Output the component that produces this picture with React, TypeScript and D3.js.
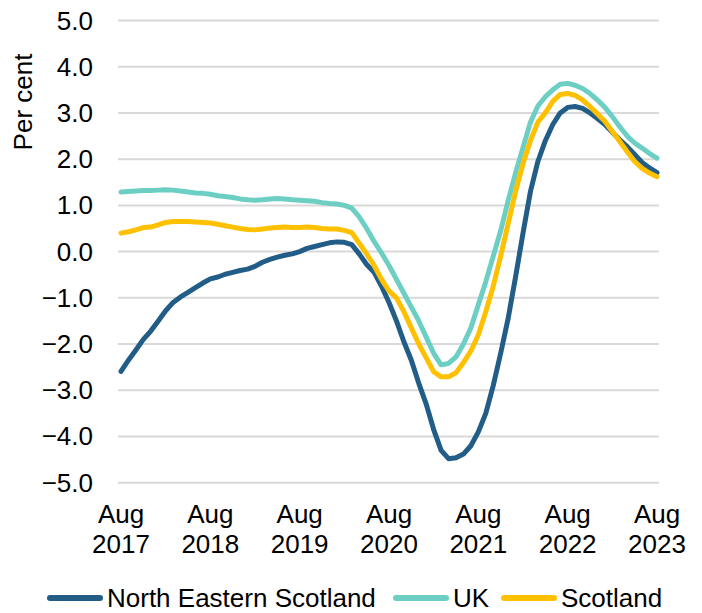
import React from "react";
import * as d3 from "d3";

// monthly, Aug 2017 .. Aug 2023
const neScotland = [
  -2.59, -2.35, -2.13, -1.9, -1.72, -1.5, -1.28, -1.1, -0.98, -0.88, -0.78, -0.68,
  -0.59, -0.55, -0.49, -0.45, -0.41, -0.38, -0.32, -0.23, -0.17, -0.12, -0.08, -0.05,
  0.0, 0.07, 0.11, 0.15, 0.19, 0.21, 0.2, 0.15, -0.05, -0.28, -0.45, -0.75,
  -1.1, -1.5, -1.95, -2.35, -2.85, -3.3, -3.85, -4.3, -4.48, -4.46, -4.38, -4.2,
  -3.9, -3.5, -2.9, -2.2, -1.45, -0.55, 0.4, 1.3, 1.95, 2.4, 2.75, 3.0,
  3.12, 3.14, 3.1, 3.0, 2.88, 2.75, 2.58, 2.42, 2.27, 2.1, 1.93, 1.81,
  1.71,
];
const uk = [
  1.29, 1.3, 1.31, 1.32, 1.32, 1.33, 1.34, 1.33, 1.31, 1.29, 1.27, 1.26,
  1.24, 1.21, 1.19, 1.17, 1.14, 1.12, 1.11, 1.12, 1.14, 1.15, 1.14, 1.12,
  1.11, 1.1, 1.09, 1.06, 1.04, 1.03, 1.0, 0.94, 0.75, 0.5, 0.22, -0.03,
  -0.3, -0.6, -0.9, -1.2, -1.5, -1.85, -2.2, -2.45, -2.42, -2.28, -2.0, -1.65,
  -1.15, -0.65, -0.1, 0.45, 1.1, 1.7, 2.25, 2.8, 3.15, 3.35, 3.5, 3.62,
  3.64, 3.6, 3.53, 3.42, 3.28, 3.12, 2.92, 2.7, 2.5, 2.35, 2.24, 2.12,
  2.02,
];
const scotland = [
  0.4, 0.43, 0.47, 0.52, 0.53, 0.58, 0.63, 0.65, 0.65, 0.65, 0.64, 0.63,
  0.62, 0.59, 0.56, 0.53, 0.5, 0.48, 0.47, 0.49, 0.51, 0.52, 0.53, 0.52,
  0.52, 0.53, 0.52, 0.5, 0.49, 0.49, 0.46, 0.41, 0.18, -0.05, -0.3, -0.6,
  -0.85, -1.0, -1.3, -1.65, -2.0, -2.3, -2.6, -2.71, -2.71, -2.62, -2.4, -2.15,
  -1.8, -1.3, -0.75, -0.1, 0.6, 1.3, 1.9, 2.4, 2.8, 3.0, 3.25, 3.4,
  3.42, 3.38, 3.28, 3.14, 2.98, 2.82, 2.6, 2.38, 2.16, 1.95, 1.8, 1.7,
  1.62,
];

const xLabels = ["2017", "2018", "2019", "2020", "2021", "2022", "2023"];
const yTicks = [5, 4, 3, 2, 1, 0, -1, -2, -3, -4, -5];

const series = [
  { name: "North Eastern Scotland", values: neScotland, color: "#215d87" },
  { name: "UK", values: uk, color: "#6dcfc3" },
  { name: "Scotland", values: scotland, color: "#ffc000" },
];

const width = 702;
const height = 613;
const font = "'Liberation Sans', Arial, sans-serif";

export default function App() {
  const x = d3.scaleLinear().domain([0, 72]).range([121, 657]);
  const y = d3.scaleLinear().domain([-5, 5]).range([482.7, 20.5]);

  const line = d3
    .line<number>()
    .x((d, i) => x(i))
    .y((d) => y(d));

  // draw order: NE Scotland underneath, then UK, then Scotland on top
  const drawOrder = [series[0], series[1], series[2]];

  const legendItems = [
    { s: series[0], lx: 47 },
    { s: series[1], lx: 393 },
    { s: series[2], lx: 501 },
  ];

  return (
    <svg
      width={width}
      height={height}
      style={{ position: "absolute", left: 0, top: 0, background: "#fff" }}
      fontFamily={font}
    >
      {/* gridlines */}
      {yTicks.map((t) => (
        <line
          key={"g" + t}
          x1={118}
          x2={659}
          y1={y(t)}
          y2={y(t)}
          stroke="#d9d9d9"
          strokeWidth={2}
        />
      ))}

      {/* y tick labels */}
      {yTicks.map((t) => (
        <text
          key={"t" + t}
          x={93}
          y={y(t) + 9}
          textAnchor="end"
          fontSize={26}
          fill="#000"
        >
          {d3.format(".1f")(t)}
        </text>
      ))}

      <text
        transform={`translate(32,102) rotate(-90)`}
        textAnchor="middle"
        fontSize={26}
        fill="#000"
      >
        Per cent
      </text>

      {/* x labels */}
      {xLabels.map((lab, i) => (
        <g key={lab} transform={`translate(${x(i * 12)},0)`}>
          <text y={523} textAnchor="middle" fontSize={26} fill="#000">
            Aug
          </text>
          <text y={553} textAnchor="middle" fontSize={26} fill="#000">
            {lab}
          </text>
        </g>
      ))}

      {/* lines */}
      {drawOrder.map((s) => (
        <path
          key={s.name}
          d={line(s.values) || ""}
          fill="none"
          stroke={s.color}
          strokeWidth={5}
          strokeLinejoin="round"
          strokeLinecap="round"
        />
      ))}

      {/* legend */}
      {legendItems.map(({ s, lx }) => (
        <g key={"l" + s.name}>
          <line
            x1={lx + 3}
            x2={lx + 53}
            y1={598}
            y2={598}
            stroke={s.color}
            strokeWidth={6}
            strokeLinecap="round"
          />
          <text x={lx + 60} y={607} fontSize={26} fill="#000">
            {s.name}
          </text>
        </g>
      ))}
    </svg>
  );
}
